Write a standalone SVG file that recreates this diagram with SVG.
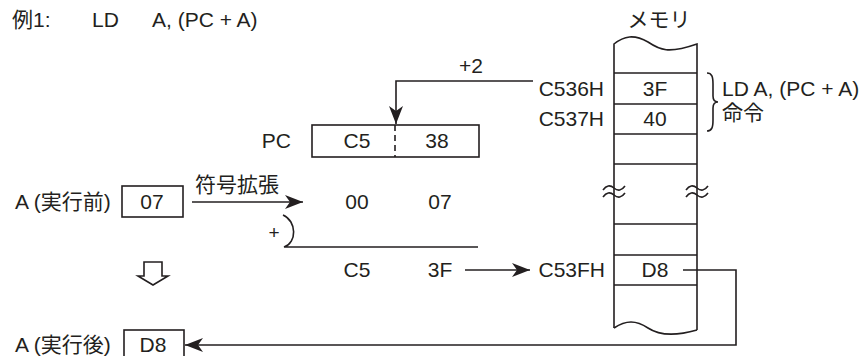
<svg xmlns="http://www.w3.org/2000/svg" width="865" height="356" viewBox="0 0 865 356">
<style>
text{font-family:"Liberation Sans","Noto Sans CJK JP",Arial,sans-serif;font-size:21px;fill:#231f20}
.m{text-anchor:middle}
.e{text-anchor:end}
.ln{fill:none;stroke:#231f20;stroke-width:1.6}
.bx{fill:#fff;stroke:#231f20;stroke-width:1.6}
</style>
<defs>
<marker id="ah" viewBox="0 0 18 14" refX="18" refY="7" markerWidth="18" markerHeight="14" markerUnits="userSpaceOnUse" orient="auto">
<path d="M0,0 L18,7 L0,14 L5,7 Z" fill="#231f20"/>
</marker>
</defs>
<rect width="865" height="356" fill="#fff"/>
<g id="title">
<text x="12" y="27">例1:</text>
<text x="92" y="27">LD</text>
<text x="152" y="27">A, (PC + A)</text>
</g>
<g id="memory">
<text class="m" x="659" y="27">メモリ</text>
<path class="ln" d="M614,328 V44 C624,36 634,34 648,42 C660,50 668,54 697,44 V330"/>
<path class="ln" d="M614,328 C626,320 636,320 648,328 C660,336 676,336 697,330"/>
<path class="ln" d="M614,73 H697 M614,104 H697 M614,134 H697 M614,164 H697 M614,224 H697 M614,255 H697 M614,285 H697"/>
<path class="ln" stroke-width="1.3" d="M603,190 Q608,183 614,188 Q620,193 625,186 M603,197 Q608,190 614,195 Q620,200 625,193 M686,190 Q691,183 697,188 Q703,193 708,186 M686,197 Q691,190 697,195 Q703,200 708,193"/>
<text class="m" x="655" y="96">3F</text>
<text class="m" x="655" y="126">40</text>
<text class="m" x="655" y="277">D8</text>
<text class="e" x="604" y="96">C536H</text>
<text class="e" x="604" y="126">C537H</text>
<text class="e" x="605" y="277">C53FH</text>
</g>
<g id="instruction">
<path class="ln" d="M707,73 C712,73 713,77 713,84 L713,96 C713,100 714,102 718,102 C714,102 713,104 713,108 L713,120 C713,127 712,131 707,131"/>
<text x="722" y="96">LD A, (PC + A)</text>
<text x="722" y="120">命令</text>
</g>
<g id="pc">
<text class="e" x="291" y="148">PC</text>
<rect class="bx" x="312" y="125" width="167" height="32"/>
<line class="ln" x1="395" y1="125" x2="395" y2="157" stroke-dasharray="6,4"/>
<text class="m" x="357" y="148">C5</text>
<text class="m" x="437" y="148">38</text>
</g>
<g id="a-before">
<text x="15" y="209">A (実行前)</text>
<rect class="bx" x="122" y="186" width="61" height="31"/>
<text class="m" x="152" y="209">07</text>
</g>
<g id="calc">
<text x="195" y="192">符号拡張</text>
<text class="m" x="357" y="209">00</text>
<text class="m" x="440" y="209">07</text>
<text class="m" x="274" y="239" style="font-size:19px">+</text>
<path class="ln" d="M283,215 C297,221 297,243 284,247 H478"/>
<text class="m" x="357" y="277">C5</text>
<text class="m" x="440" y="277">3F</text>
</g>
<g id="down-arrow">
<path class="bx" d="M144,262 H162 V276 H168 L153,285 L138,276 H144 Z"/>
</g>
<g id="a-after">
<text x="15" y="352">A (実行後)</text>
<rect class="bx" x="124" y="330" width="60" height="32"/>
<text class="m" x="153" y="352">D8</text>
</g>
<g id="connectors">
<polyline class="ln" points="533,81 396,81 396,124" marker-end="url(#ah)"/>
<text class="m" x="471" y="73">+2</text>
<line class="ln" x1="192" y1="202" x2="303" y2="202" marker-end="url(#ah)"/>
<line class="ln" x1="465" y1="270" x2="530" y2="270" marker-end="url(#ah)"/>
<polyline class="ln" points="683,270 736,270 736,345 185,345" marker-end="url(#ah)"/>
</g>
</svg>
